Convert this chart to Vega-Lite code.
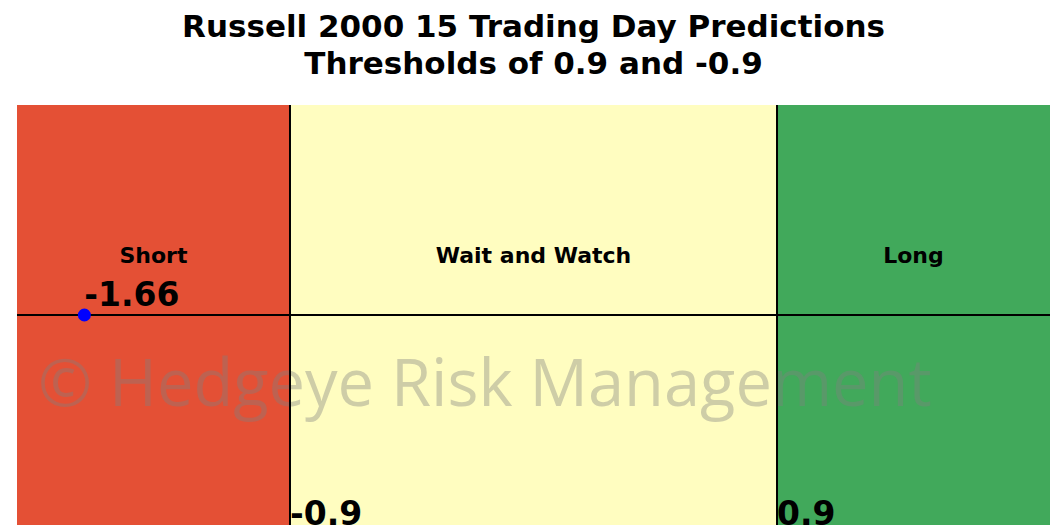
{
  "$schema": "https://vega.github.io/schema/vega-lite/v6.json",
  "width": 1033,
  "height": 420,
  "autosize": {"type": "none"},
  "padding": {"left": 17, "top": 105, "right": 12, "bottom": 2},
  "background": "white",
  "config": {"view": {"stroke": null}},
  "title": {
    "text": ["Russell 2000 15 Trading Day Predictions", "Thresholds of 0.9 and -0.9"],
    "font": "DejaVu Sans",
    "fontSize": 31,
    "fontWeight": "bold",
    "color": "black",
    "anchor": "middle",
    "lineHeight": 37,
    "offset": 23
  },
  "datasets": {
    "zones": [
      {"zone": "Short", "start": -1.909, "end": -0.9, "mid": -1.4045},
      {"zone": "Wait and Watch", "start": -0.9, "end": 0.9, "mid": 0},
      {"zone": "Long", "start": 0.9, "end": 1.909, "mid": 1.4045}
    ],
    "thresholds": [
      {"value": -0.9, "label": "-0.9"},
      {"value": 0.9, "label": "0.9"}
    ],
    "prediction": [
      {"value": -1.66, "level": 0, "label": "-1.66"}
    ],
    "watermark": [
      {"x": -1.831, "y": -0.433, "text": "© Hedgeye Risk Management"}
    ]
  },
  "layer": [
    {
      "data": {"name": "zones"},
      "mark": {"type": "rect"},
      "encoding": {
        "x": {"field": "start", "type": "quantitative", "scale": {"domain": [-1.909, 1.909], "nice": false, "zero": false}, "axis": null},
        "x2": {"field": "end"},
        "color": {
          "field": "zone",
          "type": "nominal",
          "scale": {"domain": ["Short", "Wait and Watch", "Long"], "range": ["#E45035", "#FFFDC0", "#41A95B"]},
          "legend": null
        }
      }
    },
    {
      "data": {"name": "zones"},
      "mark": {"type": "text", "font": "DejaVu Sans", "fontSize": 22, "fontWeight": "bold", "color": "black", "align": "center", "baseline": "middle"},
      "encoding": {
        "x": {"field": "mid", "type": "quantitative"},
        "y": {"datum": 0.28, "type": "quantitative", "scale": {"domain": [-1, 1], "nice": false, "zero": false}, "axis": null},
        "text": {"field": "zone"}
      }
    },
    {
      "data": {"name": "watermark"},
      "mark": {"type": "text", "font": "Open Sans", "fontSize": 65, "color": "#808080", "opacity": 0.38, "align": "left", "baseline": "alphabetic"},
      "encoding": {
        "x": {"field": "x", "type": "quantitative"},
        "y": {"field": "y", "type": "quantitative"},
        "text": {"field": "text"}
      }
    },
    {
      "data": {"name": "thresholds"},
      "mark": {"type": "rule", "color": "black", "strokeWidth": 2},
      "encoding": {
        "x": {"field": "value", "type": "quantitative"}
      }
    },
    {
      "data": {"name": "prediction"},
      "mark": {"type": "rule", "color": "black", "strokeWidth": 2},
      "encoding": {
        "y": {"field": "level", "type": "quantitative"}
      }
    },
    {
      "data": {"name": "prediction"},
      "mark": {"type": "point", "filled": true, "color": "#0000FF", "size": 170, "opacity": 1},
      "encoding": {
        "x": {"field": "value", "type": "quantitative"},
        "y": {"field": "level", "type": "quantitative"}
      }
    },
    {
      "data": {"name": "prediction"},
      "mark": {"type": "text", "font": "DejaVu Sans", "fontSize": 33, "fontWeight": "bold", "color": "black", "align": "left", "baseline": "alphabetic", "dx": 0, "dy": -9},
      "encoding": {
        "x": {"field": "value", "type": "quantitative"},
        "y": {"field": "level", "type": "quantitative"},
        "text": {"field": "label"}
      }
    },
    {
      "data": {"name": "thresholds"},
      "mark": {"type": "text", "font": "DejaVu Sans", "fontSize": 33, "fontWeight": "bold", "color": "black", "align": "left", "baseline": "alphabetic"},
      "encoding": {
        "x": {"field": "value", "type": "quantitative"},
        "y": {"datum": -1, "type": "quantitative"},
        "text": {"field": "label"}
      }
    }
  ]
}
